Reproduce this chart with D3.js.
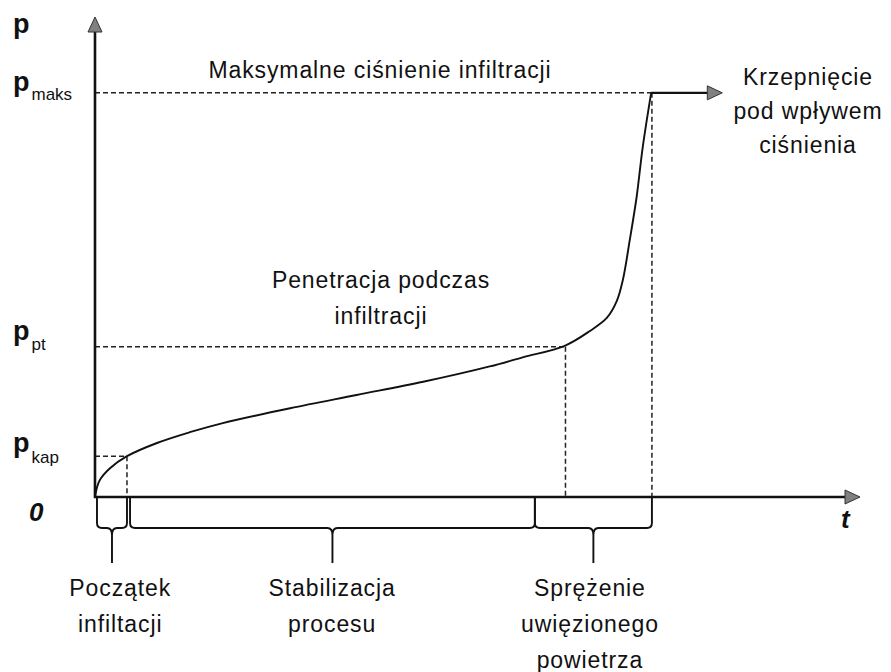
<!DOCTYPE html>
<html>
<head>
<meta charset="utf-8">
<script src="https://cdn.jsdelivr.net/npm/d3@7"></script>
<style>
  body { margin: 0; background: #fff; }
  text { font-family: "Liberation Sans", Arial, sans-serif; fill: #111; }
</style>
</head>
<body>
<div id="chart"></div>
<script>
// infiltration curve p(t)
const curveT = [0, 0.26, 0.65, 1.96, 4.18, 8.1, 12.4, 16.7, 25.5, 34.2, 42.9, 51.6, 55.9, 61.4, 64.7, 66.9, 68.2, 69.0, 69.9, 70.8, 71.6, 72.7];
const curveP = [0, 2.0, 3.6, 6.0, 8.5, 11.25, 13.5, 15.4, 18.5, 21.25, 24.0, 27.2, 29.1, 31.5, 34.6, 37.3, 40.8, 45.2, 53.5, 62.5, 72.9, 84.2];

// pressure levels marked on the p axis
const levelNames = ['maks', 'pt', 'kap'];
const levelValues = [84.2, 31.3, 8.5];
const levelTimes = [72.8, 61.5, 4.18];

// plateau after max pressure
const plateauEnd = 82.0;

// braces under the time axis
const braceStart = [0.26, 4.58, 57.5];
const braceEnd = [4.18, 57.5, 72.8];
const labelT = [3.3, 31.0, 64.7];
const braceLabels = [
    ['Początek', 'infiltacji'],
    ['Stabilizacja', 'procesu'],
    ['Sprężenie', 'uwięzionego', 'powietrza']
];

const width = 891;
const height = 672;

const x = d3.scaleLinear().domain([0, 100]).range([95, 860]);
const y = d3.scaleLinear().domain([0, 100]).range([497, 17]);

const svg = d3.select('#chart').append('svg')
    .attr('width', width)
    .attr('height', height);

// dashed guide lines
const guides = svg.append('g')
    .attr('stroke', '#222')
    .attr('stroke-width', 1.5)
    .attr('stroke-dasharray', '5,3')
    .attr('fill', 'none');

levelValues.forEach(function (v, i) {
    guides.append('line')
        .attr('x1', x(0)).attr('x2', x(levelTimes[i]))
        .attr('y1', y(v)).attr('y2', y(v));
    guides.append('line')
        .attr('x1', x(levelTimes[i])).attr('x2', x(levelTimes[i]))
        .attr('y1', y(v)).attr('y2', y(0));
});

// axes
const axes = svg.append('g')
    .attr('stroke', '#111')
    .attr('stroke-width', 2.6);
axes.append('line')
    .attr('x1', x(0)).attr('x2', x(0))
    .attr('y1', y(0) + 1).attr('y2', y(100) + 12);
axes.append('line')
    .attr('x1', x(0) - 1).attr('x2', x(100) - 12)
    .attr('y1', y(0)).attr('y2', y(0));

function arrowHead(tipX, tipY, dir) {
    // dir: 'up' or 'right'
    let pts;
    if (dir === 'up') {
        pts = [[tipX, tipY], [tipX - 7, tipY + 15], [tipX + 7, tipY + 15]];
    } else {
        pts = [[tipX, tipY], [tipX - 15, tipY - 7], [tipX - 15, tipY + 7]];
    }
    svg.append('path')
        .attr('d', 'M' + pts.join('L') + 'Z')
        .attr('fill', '#808080')
        .attr('stroke', '#333')
        .attr('stroke-width', 1);
}
arrowHead(x(0), y(100), 'up');
arrowHead(x(100), y(0), 'right');

// the curve
const line = d3.line()
    .x(function (d, i) { return x(curveT[i]); })
    .y(function (d, i) { return y(curveP[i]); })
    .curve(d3.curveCatmullRom.alpha(0.5));

svg.append('path')
    .datum(curveT)
    .attr('d', line)
    .attr('fill', 'none')
    .attr('stroke', '#111')
    .attr('stroke-width', 1.9);

// plateau
svg.append('line')
    .attr('x1', x(curveT[curveT.length - 1])).attr('x2', x(plateauEnd) - 12)
    .attr('y1', y(curveP[curveP.length - 1])).attr('y2', y(curveP[curveP.length - 1]))
    .attr('stroke', '#111')
    .attr('stroke-width', 2.4);
arrowHead(x(plateauEnd), y(curveP[curveP.length - 1]), 'right');

// braces
const braceTop = y(0) + 1;
const braceBottom = braceTop + 30;
const braceTip = braceTop + 65;
braceStart.forEach(function (s, i) {
    const x0 = x(s);
    const x1 = x(braceEnd[i]);
    const cx = (x0 + x1) / 2;
    const r = 5;
    const d = 'M' + x0 + ',' + braceTop +
        'L' + x0 + ',' + (braceBottom - r) +
        'Q' + x0 + ',' + braceBottom + ' ' + (x0 + r) + ',' + braceBottom +
        'L' + (cx - r) + ',' + braceBottom +
        'Q' + cx + ',' + braceBottom + ' ' + cx + ',' + (braceBottom + r + 2) +
        'L' + cx + ',' + braceTip +
        'M' + x1 + ',' + braceTop +
        'L' + x1 + ',' + (braceBottom - r) +
        'Q' + x1 + ',' + braceBottom + ' ' + (x1 - r) + ',' + braceBottom +
        'L' + (cx + r) + ',' + braceBottom +
        'Q' + cx + ',' + braceBottom + ' ' + cx + ',' + (braceBottom + r + 2);
    svg.append('path')
        .attr('d', d)
        .attr('fill', 'none')
        .attr('stroke', '#111')
        .attr('stroke-width', 1.9);

    const label = svg.append('text')
        .attr('text-anchor', 'middle')
        .style('font-size', '23px')
        .style('letter-spacing', '0.9px');
    braceLabels[i].forEach(function (txt, k) {
        label.append('tspan')
            .attr('x', x(labelT[i]))
            .attr('y', 596 + k * 36)
            .text(txt);
    });
});

// axis labels
svg.append('text')
    .attr('x', 13).attr('y', 33)
    .style('font-size', '27px')
    .style('font-weight', 'bold')
    .text('p');

const levelBase = [91, 340, 452];
const subBase = [100, 350, 463];
levelNames.forEach(function (n, i) {
    const t = svg.append('text')
        .attr('x', 13).attr('y', levelBase[i]);
    t.append('tspan')
        .style('font-size', '27px')
        .style('font-weight', 'bold')
        .text('p');
    t.append('tspan')
        .attr('y', subBase[i])
        .attr('dx', 2)
        .style('font-size', '17px')
        .text(n);
});

svg.append('text')
    .attr('x', 29).attr('y', 521)
    .style('font-size', '26px')
    .style('font-style', 'italic')
    .style('font-weight', 'bold')
    .text('0');

svg.append('text')
    .attr('x', 841).attr('y', 528)
    .style('font-size', '26px')
    .style('font-style', 'italic')
    .style('font-weight', 'bold')
    .text('t');

// annotations
svg.append('text')
    .attr('x', 380).attr('y', 78)
    .attr('text-anchor', 'middle')
    .style('font-size', '23px')
    .style('letter-spacing', '0.9px')
    .text('Maksymalne ciśnienie infiltracji');

const pen = svg.append('text')
    .attr('text-anchor', 'middle')
    .style('font-size', '23px')
    .style('letter-spacing', '0.9px');
['Penetracja podczas', 'infiltracji'].forEach(function (txt, k) {
    pen.append('tspan').attr('x', 381).attr('y', 288 + k * 36).text(txt);
});

const krz = svg.append('text')
    .attr('text-anchor', 'middle')
    .style('font-size', '23px')
    .style('letter-spacing', '0.9px');
['Krzepnięcie', 'pod wpływem', 'ciśnienia'].forEach(function (txt, k) {
    krz.append('tspan').attr('x', 808).attr('y', 85 + k * 34).text(txt);
});
</script>
</body>
</html>
